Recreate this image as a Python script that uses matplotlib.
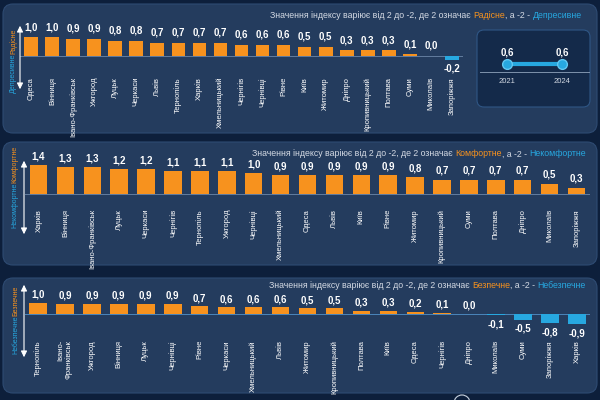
""" Regional index bars: mood, comfort, safety """

import matplotlib
matplotlib.use('Agg')
import matplotlib.pyplot as plt
from matplotlib.patches import FancyBboxPatch, FancyArrowPatch, Ellipse
from matplotlib.offsetbox import TextArea, HPacker, AnnotationBbox

# pylint: disable=invalid-name

# Data
cities_mood = ['Одеса', 'Вінниця', 'Івано-Франківськ', 'Ужгород', 'Луцьк',
               'Черкаси', 'Львів', 'Тернопіль', 'Харків', 'Хмельницький',
               'Чернігів', 'Чернівці', 'Рівне', 'Київ', 'Житомир', 'Дніпро',
               'Кропивницький', 'Полтава', 'Суми', 'Миколаїв', 'Запоріжжя']
values_mood = [1.0, 1.0, 0.9, 0.9, 0.8, 0.8, 0.7, 0.7, 0.7, 0.7, 0.6, 0.6,
               0.6, 0.5, 0.5, 0.3, 0.3, 0.3, 0.1, 0.0, -0.2]

years = ['2021', '2024']
values_years = [0.6, 0.6]

cities_comfort = ['Харків', 'Вінниця', 'Івано-Франківськ', 'Луцьк', 'Черкаси',
                  'Чернігів', 'Тернопіль', 'Ужгород', 'Чернівці',
                  'Хмельницький', 'Одеса', 'Львів', 'Київ', 'Рівне', 'Житомир',
                  'Кропивницький', 'Суми', 'Полтава', 'Дніпро', 'Миколаїв',
                  'Запоріжжя']
values_comfort = [1.4, 1.3, 1.3, 1.2, 1.2, 1.1, 1.1, 1.1, 1.0, 0.9, 0.9, 0.9,
                  0.9, 0.9, 0.8, 0.7, 0.7, 0.7, 0.7, 0.5, 0.3]

cities_safe = ['Тернопіль', 'Івано-\nФранківськ', 'Ужгород', 'Вінниця',
               'Луцьк', 'Чернівці', 'Рівне', 'Черкаси', 'Хмельницький',
               'Львів', 'Житомир', 'Кропивницький', 'Полтава', 'Київ', 'Одеса',
               'Чернігів', 'Дніпро', 'Миколаїв', 'Суми', 'Запоріжжя', 'Харків']
values_safe = [1.0, 0.9, 0.9, 0.9, 0.9, 0.9, 0.7, 0.6, 0.6, 0.6, 0.5, 0.5,
               0.3, 0.3, 0.2, 0.1, 0.0, -0.1, -0.5, -0.8, -0.9]

TITLE = 'Значення індексу варіює від 2 до -2, де 2 означає'

# Style
W, H = 600, 400
BG = '#0d1f3b'
PANEL = '#243c5e'
INSET = '#142a4a'
ORANGE = '#f7921e'
BLUE = '#27a8e0'
TEXT = '#d3d9e3'
TITLE_SIZE = 6.3

plt.rcParams['font.family'] = ['Liberation Sans', 'DejaVu Sans']

fig = plt.figure(figsize=(6, 4), dpi=100, facecolor=BG)


def fx(x):
    """ pixel x to figure fraction """
    return x / W


def fy(y):
    """ pixel y (from top) to figure fraction """
    return 1 - y / H


def add_box(left, top, right, bottom, face, edge, radius=10, z=-2):
    """ Rounded box in figure pixels, drawn under the axes """
    patch = FancyBboxPatch(
        (fx(left), fy(bottom)), (right - left) / W, (bottom - top) / H,
        boxstyle=f'round,pad=0,rounding_size={radius / W}',
        mutation_aspect=W / H,
        transform=fig.transFigure, facecolor=face, edgecolor=edge, lw=0.8,
        zorder=z,
    )
    fig.add_artist(patch)
    return patch


def add_title(right, y, good, bad):
    """ Multi-coloured title, right aligned """
    props = dict(color=TEXT, fontsize=TITLE_SIZE)
    part_a = TextArea(TITLE, textprops=props)
    part_b = HPacker(children=[
        TextArea(good, textprops=dict(color=ORANGE, fontsize=TITLE_SIZE)),
        TextArea(', а -2 -', textprops=props),
    ], sep=0, pad=0)
    part_c = TextArea(bad, textprops=dict(color=BLUE, fontsize=TITLE_SIZE))
    box = HPacker(children=[part_a, part_b, part_c], sep=2, pad=0,
                  align='baseline')
    ab = AnnotationBbox(box, (fx(right), fy(y)), xycoords='figure fraction',
                        box_alignment=(1, 0.5), frameon=False, pad=0)
    fig.add_artist(ab)


def add_side(x_arrow, top, bottom, x_text, split, good, bad):
    """ Vertical double arrow with the two scale words """
    fig.add_artist(FancyArrowPatch(
        (fx(x_arrow), fy(bottom)), (fx(x_arrow), fy(top)),
        arrowstyle='<|-|>', mutation_scale=9, color='white', lw=0.8,
        transform=fig.transFigure,
    ))
    fig.text(fx(x_text), fy(split), good, rotation=90, ha='center',
             va='bottom', color=ORANGE, fontsize=5)
    fig.text(fx(x_text), fy(split), bad, rotation=90, ha='center',
             va='top', color=BLUE, fontsize=5)


def add_bars(cities, values, panel, c0, step, zero, scale, top, bottom,
             gap, up, zero_color):
    """ Bar chart laid on a panel """
    n = len(cities)
    left = c0 - step / 2
    ax = fig.add_axes([fx(left), fy(bottom), n * step / W,
                       (bottom - top) / H])
    ax.set_xlim(-0.5, n - 0.5)
    ax.set_ylim(-(bottom - zero) / scale, (zero - top) / scale)
    ax.axis('off')
    ax.axhline(0, color=zero_color, lw=0.7, zorder=1)
    colors = [ORANGE if v >= 0 else BLUE for v in values]
    ax.bar(range(n), values, width=0.65, color=colors, zorder=2)
    for i, (city, v) in enumerate(zip(cities, values)):
        label = f'{v:.1f}'.replace('.', ',')
        if v >= 0:
            ax.annotate(label, (i, v), xytext=(0, up),
                        textcoords='offset pixels', ha='center', va='bottom',
                        color='white', fontsize=7, fontweight='bold')
        else:
            ax.annotate(label, (i, v), xytext=(0, -4),
                        textcoords='offset pixels', ha='center', va='top',
                        color='white', fontsize=7, fontweight='bold')
        t = ax.annotate(city, (i, 0), xytext=(0, -gap),
                        textcoords='offset pixels', rotation=90,
                        ha='center', va='top', multialignment='right',
                        color='white', fontsize=5.5)
        # clip to the rounded panel only, not the axes box
        t.set_clip_on(True)
        t.set_clip_box(None)
        t.set_clip_path(panel)
    return ax


# Panel 1 - mood
p1 = add_box(3, 4, 597, 133, PANEL, '#2e4b72')
add_title(582, 15, 'Радісне', 'Депресивне')
add_side(20, 23, 92, 13, 54, 'Радісне', 'Депресивне')
add_bars(cities_mood, values_mood, p1, 31, 21.05, 56, 19, 25, 100, 21, 5,
         '#627d9e')

# Inset: 2021 vs 2024
add_box(477, 30, 590, 107, INSET, '#2f5685', radius=7, z=-1)
ax_in = fig.add_axes([fx(479.5), fy(99), 110 / W, 54 / H])
ax_in.set_xlim(-0.5, 1.5)
ax_in.set_ylim(-2, 2)
ax_in.axis('off')
ax_in.axhline(0, color='#7f93ad', lw=0.7)
ax_in.plot(range(len(years)), values_years, color=BLUE, lw=3,
           marker='o', ms=7, mfc=BLUE, mec='#62c8f2', mew=1)
for i, (yr, v) in enumerate(zip(years, values_years)):
    ax_in.annotate(f'{v:.1f}'.replace('.', ','), (i, v), xytext=(0, 6),
                   textcoords='offset pixels', ha='center', va='bottom',
                   color='white', fontsize=7, fontweight='bold')
    ax_in.annotate(yr, (i, 0), xytext=(0, -6), textcoords='offset pixels',
                   ha='center', va='top', color=TEXT, fontsize=5.5)

# Panel 2 - comfort
p2 = add_box(3, 142, 597, 265, PANEL, '#2e4b72')
add_title(586, 154, 'Комфортне', 'Некомфортне')
add_side(24, 158, 237, 15, 183, 'Комфортне', 'Некомфортне')
add_bars(cities_comfort, values_comfort, p2, 38.5, 26.9, 194, 20.7, 160,
         240, 15, 4, '#627d9e')

# Panel 3 - safety
p3 = add_box(3, 278, 597, 393, PANEL, '#2e4b72')
add_title(586, 285, 'Безпечне', 'Небезпечне')
add_side(24, 282, 360, 16, 316, 'Безпечне', 'Небезпечне')
add_bars(cities_safe, values_safe, p3, 38, 26.95, 314, 11.3, 290, 350, 26,
         3, '#4b86bb')

# Logo hint at the bottom edge
fig.add_artist(Ellipse((fx(462), fy(403)), 16 / W, 16 / H,
                       transform=fig.transFigure, facecolor='none',
                       edgecolor='#c9d3e0', lw=0.8))

fig.savefig('out.png', dpi=100, facecolor=BG)
